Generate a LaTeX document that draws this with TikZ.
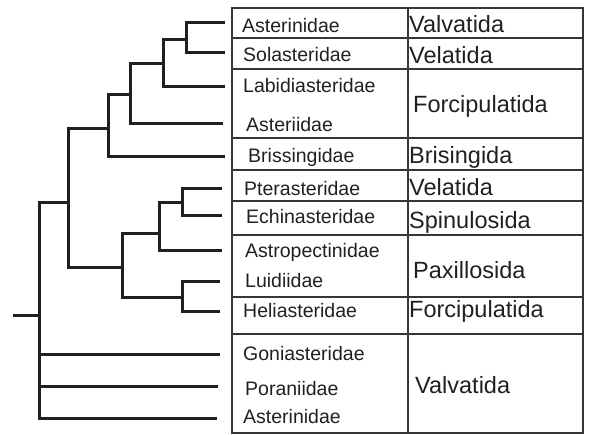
\documentclass[tikz,border=0pt]{standalone}
\usepackage{fontspec}
\setmainfont{Liberation Sans}
\usetikzlibrary{calc}
\definecolor{ink}{HTML}{231F20}

\begin{document}
\begin{tikzpicture}[x=1pt,y=-1pt,
  branch/.style={line width=3pt,draw=ink},
  cell/.style={line width=1.6pt,draw=ink!90},
  family/.style={anchor=base west,inner sep=0pt,text=ink,font=\fontsize{19.5}{22}\selectfont},
  order/.style={anchor=base west,inner sep=0pt,text=ink,font=\fontsize{23.5}{26}\selectfont}]
  \useasboundingbox (0,0) rectangle (591,434);

  % leaf ends
  \coordinate (asterinidaeA) at (225,22);
  \coordinate (solasteridae) at (225,52);
  \coordinate (labidiasteridae) at (225,86);
  \coordinate (asteriidae) at (223,123);
  \coordinate (brissingidae) at (225,156);
  \coordinate (pterasteridae) at (222,188);
  \coordinate (echinasteridae) at (222,215);
  \coordinate (astropectinidae) at (222,250);
  \coordinate (luidiidae) at (220,281);
  \coordinate (heliasteridae) at (220,311);
  \coordinate (goniasteridae) at (220,354);
  \coordinate (poraniidae) at (218,386);
  \coordinate (asterinidaeB) at (217,418);

  % inner nodes
  \coordinate (n1) at (186,39);
  \coordinate (n2) at (163,63);
  \coordinate (n3) at (130,94);
  \coordinate (n4) at (108,128);
  \coordinate (n5) at (182,202);
  \coordinate (n6) at (159,233);
  \coordinate (n7) at (182,297);
  \coordinate (n8) at (122,267);
  \coordinate (n9) at (68,202);
  \coordinate (root) at (39,315);
  \coordinate (stub) at (13,315);

  % tree
  \draw[branch] (asterinidaeA) -| (n1) |- (solasteridae);
  \draw[branch] (n1) -| (n2) |- (labidiasteridae);
  \draw[branch] (n2) -| (n3) |- (asteriidae);
  \draw[branch] (n3) -| (n4) |- (brissingidae);
  \draw[branch] (pterasteridae) -| (n5) |- (echinasteridae);
  \draw[branch] (n5) -| (n6) |- (astropectinidae);
  \draw[branch] (luidiidae) -| (n7) |- (heliasteridae);
  \draw[branch] (n6) -| (n8) |- (n7);
  \draw[branch] (n4) -| (n9) |- (n8);
  \draw[branch] (n9) -| (root) |- (asterinidaeB);
  \draw[branch] (root |- goniasteridae) -- (goniasteridae);
  \draw[branch] (root |- poraniidae) -- (poraniidae);
  \draw[branch] (stub) -- (root);

  % table
  \draw[cell] (232,8) rectangle (583,433);
  \draw[cell] (408,8) -- (408,433);
  \draw[cell] (232,38) -- (583,38);
  \draw[cell] (232,69) -- (583,69);
  \draw[cell] (232,138) -- (583,138);
  \draw[cell] (232,170) -- (583,170);
  \draw[cell] (232,201) -- (583,201);
  \draw[cell] (232,235) -- (583,235);
  \draw[cell] (232,297) -- (583,297);
  \draw[cell] (232,334) -- (583,334);

  % families
  \node[family] (fAsterinidaeA) at (242,32) {Asterinidae};
  \node[family] (fSolasteridae) at (243,61.5) {Solasteridae};
  \node[family] (fLabidiasteridae) at (243,92) {Labidiasteridae};
  \node[family] (fAsteriidae) at (246,131.5) {Asteriidae};
  \node[family] (fBrissingidae) at (248,162) {Brissingidae};
  \node[family] (fPterasteridae) at (244,195) {Pterasteridae};
  \node[family] (fEchinasteridae) at (246,223) {Echinasteridae};
  \node[family] (fAstropectinidae) at (245,257) {Astropectinidae};
  \node[family] (fLuidiidae) at (245,287) {Luidiidae};
  \node[family] (fHeliasteridae) at (243,317) {Heliasteridae};
  \node[family] (fGoniasteridae) at (243,360) {Goniasteridae};
  \node[family] (fPoraniidae) at (245,395) {Poraniidae};
  \node[family] (fAsterinidaeB) at (243,423) {Asterinidae};

  % orders
  \node[order] (oValvatidaA) at (409,32) {Valvatida};
  \node[order] (oVelatidaA) at (409,63) {Velatida};
  \node[order] (oForcipulatidaA) at (413,112) {Forcipulatida};
  \node[order] (oBrisingida) at (409,163) {Brisingida};
  \node[order] (oVelatidaB) at (409,195) {Velatida};
  \node[order] (oSpinulosida) at (409,228) {Spinulosida};
  \node[order] (oPaxillosida) at (413,278) {Paxillosida};
  \node[order] (oForcipulatidaB) at (409,317) {Forcipulatida};
  \node[order] (oValvatidaB) at (415,393) {Valvatida};
\end{tikzpicture}
\end{document}
